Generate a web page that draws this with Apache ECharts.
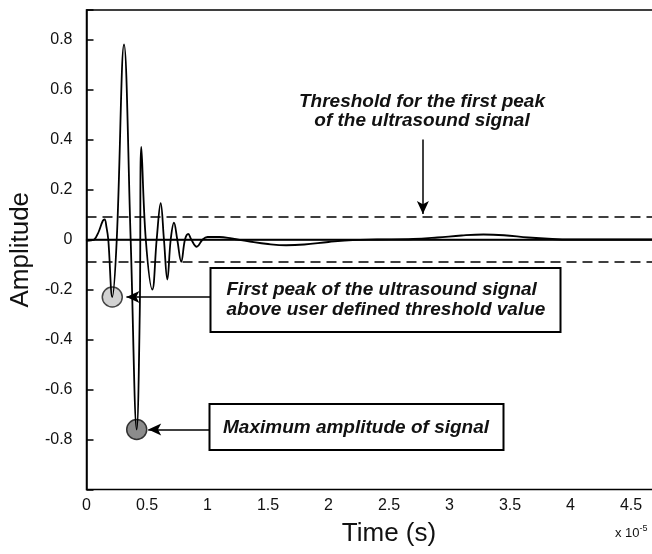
<!DOCTYPE html>
<html>
<head>
<meta charset="utf-8">
<script src="https://cdn.jsdelivr.net/npm/echarts@6/dist/echarts.min.js"></script>
<style>html,body{margin:0;padding:0;background:#fff;overflow:hidden}#c{width:652px;height:554px}</style>
</head>
<body>
<div id="c"></div>
<script>
// Time in units of 1e-5 s
const times = [0.00, 0.04, 0.065, 0.10, 0.135, 0.15, 0.165, 0.18, 0.213, 0.25, 0.31, 0.365, 0.415, 0.44, 0.453, 0.49, 0.544, 0.58, 0.613, 0.64, 0.668, 0.696, 0.723, 0.75, 0.783, 0.814, 0.841, 0.866, 0.911, 0.96, 1.0,
  1.1, 1.2, 1.35, 1.5, 1.65, 1.8, 2.0, 2.2, 2.4, 2.7, 2.9, 3.1, 3.28, 3.45, 3.65, 3.85, 4.0, 5.0];
const amplitude = [-0.005, -0.003, 0.0, 0.03, 0.075, 0.08, 0.05, 0.0, -0.23, 0.0, 0.78, 0.0, -0.76, -0.3, 0.37, 0.0, -0.2, 0.0, 0.145, 0.0, -0.16, 0.0, 0.067, 0.0, -0.089, 0.0, 0.022, 0.0, -0.029, 0.0, 0.01,
  0.01, 0.004, -0.008, -0.018, -0.023, -0.02, -0.01, -0.002, 0.0, 0.002, 0.008, 0.016, 0.02, 0.017, 0.008, 0.002, 0.0, 0.0];
const thresholds = [0.09, -0.09];
const firstPeak = [0.213, -0.23];
const maxPeak = [0.415, -0.76];
const xTicks = [0, 0.5, 1, 1.5, 2, 2.5, 3, 3.5, 4, 4.5, 5];
const yTicks = [-0.8, -0.6, -0.4, -0.2, 0, 0.2, 0.4, 0.6, 0.8];

const signal = times.map((t, i) => [t, amplitude[i]]);
const FONT = '"Liberation Sans", Arial, Helvetica, sans-serif';
const annFont = {fontFamily: FONT, fontWeight: 'bold', fontStyle: 'italic', fontSize: 19, fill: '#111'};

const chart = echarts.init(document.getElementById('c'), null, {renderer: 'canvas'});
chart.setOption({
  backgroundColor: '#fff',
  animation: false,
  grid: {left: 86.5, top: 10, width: 605, height: 479.5, outerBoundsMode: 'none', containLabel: false,
    show: true, borderColor: '#000', borderWidth: 1.5, backgroundColor: '#fff'},
  xAxis: {
    type: 'value', min: xTicks[0], max: xTicks[xTicks.length - 1], interval: 0.5,
    name: 'Time (s)', nameLocation: 'middle', nameGap: 31,
    nameTextStyle: {fontFamily: FONT, fontSize: 26, color: '#111'},
    axisLine: {show: true, lineStyle: {color: '#000', width: 1.5}},
    axisTick: {show: false},
    splitLine: {show: false},
    axisLabel: {margin: 8, fontFamily: FONT, fontSize: 16, color: '#111',
      formatter: v => String(Math.round(v * 10) / 10)}
  },
  yAxis: {
    type: 'value', min: -1, max: 0.918, interval: 0.2,
    name: 'Amplitude', nameLocation: 'middle', nameGap: 39, nameRotate: 90,
    nameTextStyle: {fontFamily: FONT, fontSize: 26, color: '#111'},
    axisLine: {show: true, lineStyle: {color: '#000', width: 1.5}},
    axisTick: {show: true, inside: true, length: 7, lineStyle: {color: '#000', width: 1.5}},
    splitLine: {show: false},
    axisLabel: {margin: 14, fontFamily: FONT, fontSize: 16, color: '#111',
      formatter: v => {
        const r = Math.round(v * 10) / 10;
        return yTicks.some(t => Math.abs(t - v) < 1e-6) ? String(r) : '';
      }}
  },
  series: [
    {
      type: 'scatter', z: 1, symbolSize: 20,
      data: [firstPeak],
      itemStyle: {color: '#d2d2d2', borderColor: '#444', borderWidth: 1.5, opacity: 1}
    },
    {
      type: 'scatter', z: 1, symbolSize: 20,
      data: [maxPeak],
      itemStyle: {color: '#8c8c8c', borderColor: '#333', borderWidth: 1.5, opacity: 1}
    },
    {
      type: 'line', z: 3, data: signal, smooth: 0.4, showSymbol: false,
      lineStyle: {color: '#000', width: 1.8},
      markLine: {
        silent: true, symbol: 'none', label: {show: false},
        data: [
          {yAxis: 0, lineStyle: {color: '#000', width: 1.3, type: 'solid'}},
          {yAxis: thresholds[0], lineStyle: {color: '#000', width: 1.5, type: [10, 6]}},
          {yAxis: thresholds[1], lineStyle: {color: '#000', width: 1.5, type: [10, 6]}},
          [{coord: [1.026, firstPeak[1]], symbol: 'none'}, {coord: [0.33, firstPeak[1]], symbol: 'arrow', symbolSize: [9, 13]}],
          [{coord: [1.015, maxPeak[1]], symbol: 'none'}, {coord: [0.51, maxPeak[1]], symbol: 'arrow', symbolSize: [9, 13]}],
          [{coord: [2.78, 0.40], symbol: 'none'}, {coord: [2.78, 0.102], symbol: 'arrow', symbolSize: [9, 13]}]
        ].map(d => Array.isArray(d) ? d.map(p => Object.assign({lineStyle: {color: '#000', width: 1.5, type: 'solid'}}, p)) : d)
      }
    }
  ],
  graphic: [
    {type: 'text', x: 422, y: 101.5, z: 10, style: Object.assign({text: 'Threshold for the first peak', align: 'center', verticalAlign: 'middle'}, annFont)},
    {type: 'text', x: 422, y: 120.5, z: 10, style: Object.assign({text: 'of the ultrasound signal', align: 'center', verticalAlign: 'middle'}, annFont)},
    {type: 'rect', z: 9, shape: {x: 210.5, y: 268, width: 350, height: 64}, style: {fill: '#fff', stroke: '#000', lineWidth: 2}},
    {type: 'text', x: 226.5, y: 290, z: 10, style: Object.assign({text: 'First peak of the ultrasound signal', align: 'left', verticalAlign: 'middle'}, annFont)},
    {type: 'text', x: 226.5, y: 309.5, z: 10, style: Object.assign({text: 'above user defined threshold value', align: 'left', verticalAlign: 'middle'}, annFont)},
    {type: 'rect', z: 9, shape: {x: 209.5, y: 404, width: 294, height: 46}, style: {fill: '#fff', stroke: '#000', lineWidth: 2}},
    {type: 'text', x: 223, y: 428, z: 10, style: Object.assign({text: 'Maximum amplitude of signal', align: 'left', verticalAlign: 'middle'}, annFont)},
    {type: 'text', x: 615, y: 533, z: 10, style: {
      text: '{b|x 10}{s|-5}', align: 'left', verticalAlign: 'middle',
      rich: {b: {fontFamily: FONT, fontSize: 13, fill: '#111'}, s: {fontFamily: FONT, fontSize: 9, fill: '#111', verticalAlign: 'top', padding: [0, 0, 8, 0]}}
    }}
  ]
});
</script>
</body>
</html>
